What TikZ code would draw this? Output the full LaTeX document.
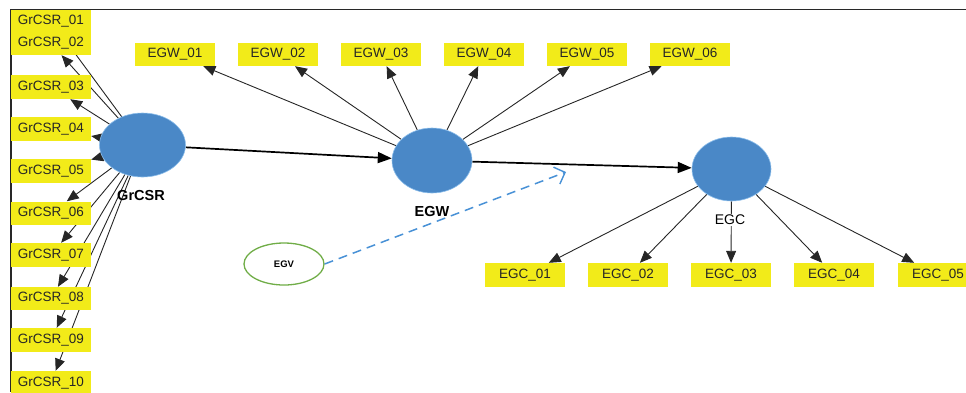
\documentclass[tikz,border=0pt]{standalone}
\usepackage{fontspec}
\setmainfont{Liberation Sans}
\usetikzlibrary{shapes.geometric,arrows.meta,backgrounds}
\definecolor{boxyellow}{RGB}{242,235,25}
\definecolor{lvblue}{RGB}{74,136,199}
\definecolor{lvedge}{RGB}{140,190,235}
\definecolor{egvgreen}{RGB}{112,173,71}
\definecolor{dashblue}{RGB}{72,145,214}
\definecolor{framegray}{RGB}{40,40,40}
\tikzset{
  indbox/.style={fill=boxyellow, minimum width=80pt, minimum height=23pt, inner sep=0pt,
    font=\fontsize{13.5}{15}\selectfont, text=black!85},
  lv/.style={ellipse, fill=lvblue, draw=lvedge, line width=0.6pt, minimum width=86pt, minimum height=64pt, inner sep=0pt},
  lvlabel/.style={font=\fontsize{14.5}{16}\selectfont\bfseries, inner sep=0pt},
  loadarrow/.style={draw=black!85, line width=0.9pt, -{Triangle[length=12pt,width=10pt]}},
  patharrow/.style={draw=black, line width=1.7pt, -{Triangle[length=14pt,width=11pt]}},
  modarrow/.style={draw=dashblue, line width=1.5pt, dash pattern=on 9pt off 6pt, -{Straight Barb[length=9pt,width=18pt,line width=1.4pt]}},
}
\begin{document}
\begin{tikzpicture}[x=1pt,y=-1pt]
\useasboundingbox (0,0) rectangle (966,392);
% frame
\draw[framegray, line width=1.5pt] (11,392) -- (11,9.5) -- (966,9.5);

% GrCSR indicators
\node[indbox, minimum height=22.5pt] (g01) at (51,20.75) {GrCSR\_01};
\node[indbox] (g02) at (51,43.5) {GrCSR\_02};
\node[indbox, minimum height=24pt] (g03) at (51,87) {GrCSR\_03};
\node[indbox, minimum height=24pt] (g04) at (51,129) {GrCSR\_04};
\node[indbox, minimum height=24pt] (g05) at (51,171) {GrCSR\_05};
\node[indbox, minimum height=23pt] (g06) at (51,213) {GrCSR\_06};
\node[indbox, minimum height=24pt] (g07) at (51,255) {GrCSR\_07};
\node[indbox, minimum height=23pt] (g08) at (51,298.5) {GrCSR\_08};
\node[indbox, minimum height=24pt] (g09) at (51,340) {GrCSR\_09};
\node[indbox, minimum height=24pt] (g10) at (51,383) {GrCSR\_10};

% EGW indicators
\node[indbox] (w01) at (175,54.5) {EGW\_01};
\node[indbox] (w02) at (278,54.5) {EGW\_02};
\node[indbox] (w03) at (381,54.5) {EGW\_03};
\node[indbox] (w04) at (484,54.5) {EGW\_04};
\node[indbox] (w05) at (587,54.5) {EGW\_05};
\node[indbox] (w06) at (690,54.5) {EGW\_06};

% EGC indicators
\node[indbox, minimum height=24pt] (c01) at (525,275) {EGC\_01};
\node[indbox, minimum height=24pt] (c02) at (628,275) {EGC\_02};
\node[indbox, minimum height=24pt] (c03) at (731,275) {EGC\_03};
\node[indbox, minimum height=24pt] (c04) at (834,275) {EGC\_04};
\node[indbox, minimum height=24pt] (c05) at (938,275) {EGC\_05};

% latent variables
\node[lv] (grcsr) at (142.5,145) {};
\node[lv, minimum width=80pt, minimum height=65pt] (egw) at (432,160.5) {};
\node[lv, minimum width=79pt, minimum height=64pt] (egc) at (731.5,169) {};
\node[ellipse, draw=egvgreen, fill=white, line width=1.3pt, minimum width=80pt, minimum height=42pt, inner sep=0pt,
  font=\fontsize{9.5}{11}\selectfont\bfseries] (egv) at (284,264) {EGV};

\node[lvlabel] (grcsrlab) at (141,196) {GrCSR};
\node[lvlabel] (egwlab) at (432,212) {EGW};
\node[font=\fontsize{14}{16}\selectfont, fill=white, inner sep=1pt] (egclab) at (730,220) {EGC};

\coordinate (modtip) at (566,172);

\begin{scope}[on background layer]
  \foreach \i in {01,02,03,04,05,06,07,08,09,10}
    \draw[loadarrow] (grcsr) -- (g\i);
  \foreach \i in {01,02,03,04,05,06}
    \draw[loadarrow] (egw) -- (w\i);
  \foreach \i in {01,02,03,04,05}
    \draw[loadarrow] (egc) -- (c\i);
  \draw[patharrow] (grcsr) -- (egw);
  \draw[patharrow] (egw) -- (egc);
\end{scope}
\draw[modarrow] (egv.east) -- (modtip);
\end{tikzpicture}
\end{document}
